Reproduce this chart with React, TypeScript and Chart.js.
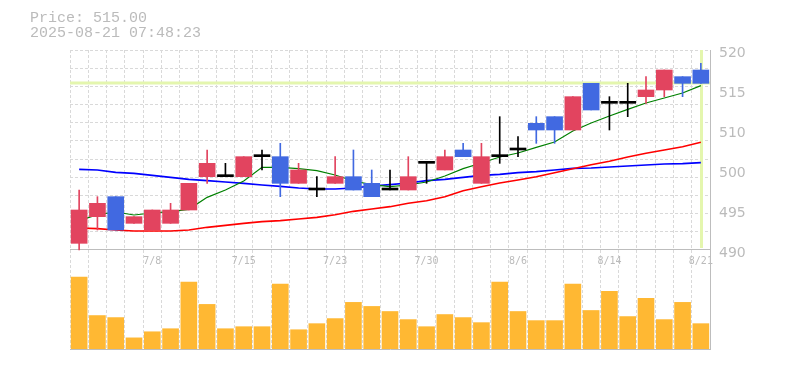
import React, { useEffect, useRef } from "react";
import { Chart, registerables } from "chart.js";

Chart.register(...registerables);

// ---- data ----
const dates = ["7/2","7/3","7/4","7/7","7/8","7/9","7/10","7/11","7/14","7/15","7/16","7/17","7/18","7/22","7/23","7/24","7/25","7/28","7/29","7/30","7/31","8/1","8/4","8/5","8/6","8/7","8/8","8/12","8/13","8/14","8/15","8/18","8/19","8/20","8/21"];
const opens  = [491,495,498,494,493,494,496,501,501,501,504,504,500,499,500,501,500,499,499,503,502,505,500,504,505,509,510,508,515,512,512,513,514,516,517];
const closes = [496,497,493,495,496,496,500,503,501,504,504,500,502,499,501,499,498,499,501,503,504,504,504,504,505,508,508,513,511,512,512,514,517,515,515];
const highs  = [499,498,498,495,496,497,500,505,503,504,505,506,503,501,504,505,502,502,504,503,505,506,506,510,507,510,510,513,515,513,515,516,517,516,518];
const lows   = [490,493,493,494,493,494,496,500,501,501,502,498,500,498,500,499,498,499,499,500,502,504,500,503,504,506,506,508,511,508,510,512,513,513,515];
const volumes = [71,33,31,11,17,20,66,44,20,22,22,64,19,25,30,46,42,37,29,22,34,31,26,66,37,28,28,64,38,57,32,50,29,46,25];
const ma5  = [494.4,495.3,495.7,495.25,495.55,495.75,496.1,497.9,499.0,500.35,502.4,502.4,502.2,501.9,501.25,500.35,499.8,499.5,499.75,500.2,501.1,502.2,503.05,503.95,504.55,505.4,506.2,507.85,509.05,510.1,511.1,512.05,512.8,513.55,514.65];
const ma25 = [493.3,493.2,493.0,492.85,492.85,492.85,493.0,493.4,493.7,494.0,494.25,494.4,494.65,494.9,495.3,495.8,496.15,496.5,497.0,497.4,498.0,498.9,499.5,500.05,500.5,501.0,501.6,502.2,502.8,503.3,503.95,504.5,505.0,505.5,506.15];
const ma75 = [502.1,502.0,501.65,501.5,501.2,500.9,500.6,500.4,500.2,500.0,499.75,499.55,499.3,499.15,499.15,499.3,499.6,499.8,500.05,500.4,500.6,500.9,501.2,501.35,501.6,501.75,502.0,502.25,502.3,502.45,502.6,502.75,502.9,502.95,503.1];
const priceTickValues = [490, 496, 502, 508, 514, 520];
const priceTickLabels = ["490", "495", "500", "510", "515", "520"];
const currentPrice = 515.0;
const titleLines = ["Price: 515.00", "2025-08-21 07:48:23"];

// ---- style / layout ----
const PRICE_MIN = 490;
const PRICE_MAX = 520;
const GRID_LINES = 12;
const UP = "#e2445f";
const DOWN = "#4169e1";
const FLAT = "#000000";
const VOL = "#ffb833";
const GRID = "#d9d9d9";
const AXIS = "#bdbdbd";
const TEXT = "#bbbbbb";
const LIME = "#e4f6ae";

const W = 785, H = 370;
const AREA_TOP = 50, AREA_LEFT = 70, AREA_RIGHT = 710, AREA_BOTTOM = 349, PRICE_BOTTOM = 250;
const axisMin = PRICE_MAX - (PRICE_MAX - PRICE_MIN) * (AREA_BOTTOM - AREA_TOP) / (PRICE_BOTTOM - AREA_TOP);
const gridValues = Array.from({ length: GRID_LINES }, (_, k) => PRICE_MIN + (k * (PRICE_MAX - PRICE_MIN)) / (GRID_LINES - 1));

const candleColor = (i: number) => (closes[i] > opens[i] ? UP : closes[i] < opens[i] ? DOWN : FLAT);

const crosshair = {
  id: "crosshair",
  beforeDatasetsDraw(chart: any) {
    const { ctx, chartArea, scales } = chart;
    const y = scales.y.getPixelForValue(currentPrice);
    const x = scales.x.getPixelForValue(dates.length - 1);
    const yb = scales.y.getPixelForValue(PRICE_MIN);
    ctx.save();
    ctx.fillStyle = LIME;
    ctx.fillRect(chartArea.left, Math.round(y) - 1.5, chartArea.right - chartArea.left, 3);
    ctx.fillRect(Math.round(x) - 1, chartArea.top, 3, yb - chartArea.top - 2);
    ctx.restore();
  },
};

export default function App() {
  const ref = useRef<HTMLCanvasElement | null>(null);

  useEffect(() => {
    if (!ref.current) return;
    const colors = dates.map((_, i) => candleColor(i));
    const chart = new Chart(ref.current, {
      type: "bar",
      data: {
        labels: dates,
        datasets: [
          {
            type: "bar",
            label: "body",
            data: opens.map((o, i) => [o, closes[i]]) as any,
            backgroundColor: colors,
            barThickness: 16,
            minBarLength: 2,
            grouped: false,
            yAxisID: "y",
            order: 0,
          },
          {
            type: "bar",
            label: "wick",
            data: lows.map((l, i) => [l, highs[i]]) as any,
            backgroundColor: colors,
            barThickness: 1,
            grouped: false,
            yAxisID: "y",
            order: 1,
          },
          {
            type: "line",
            label: "MA5",
            data: ma5,
            borderColor: "#008000",
            borderWidth: 1.2,
            pointRadius: 0,
            tension: 0,
            yAxisID: "y",
            order: 2,
          },
          {
            type: "line",
            label: "MA25",
            data: ma25,
            borderColor: "#ff0000",
            borderWidth: 1.6,
            pointRadius: 0,
            tension: 0,
            yAxisID: "y",
            order: 3,
          },
          {
            type: "line",
            label: "MA75",
            data: ma75,
            borderColor: "#0000ff",
            borderWidth: 1.6,
            pointRadius: 0,
            tension: 0,
            yAxisID: "y",
            order: 4,
          },
          {
            type: "bar",
            label: "Volume",
            data: volumes,
            backgroundColor: VOL,
            barThickness: 16,
            grouped: false,
            yAxisID: "yv",
            order: 5,
          },
        ],
      },
      options: {
        responsive: false,
        animation: false,
        devicePixelRatio: 1,
        events: [],
        layout: { padding: { top: AREA_TOP, left: AREA_LEFT, right: 0, bottom: 0 } },
        plugins: { legend: { display: false }, tooltip: { enabled: false }, title: { display: false } },
        scales: {
          x: {
            type: "category",
            position: { y: PRICE_MIN } as any,
            offset: true,
            grid: { display: true, offset: true, color: GRID, lineWidth: 1, drawTicks: false },
            border: { display: true, color: AXIS, width: 1, dash: [3, 2] },
            ticks: {
              autoSkip: false,
              maxRotation: 0,
              minRotation: 0,
              padding: 5,
              color: TEXT,
              font: { family: "'DejaVu Sans Mono', monospace", size: 10 },
              callback: (_v: any, i: number) => (i % 5 === 4 ? dates[i] : ""),
            },
          },
          x2: {
            type: "category",
            position: "bottom",
            offset: true,
            grid: { display: false, drawTicks: false },
            border: { display: true, color: AXIS, width: 1 },
            ticks: { display: false },
            afterFit: (s: any) => { s.height = H - AREA_BOTTOM; },
          },
          y: {
            type: "linear",
            position: "right",
            min: axisMin,
            max: PRICE_MAX,
            afterBuildTicks: (s: any) => { s.ticks = priceTickValues.map((value) => ({ value })); },
            afterFit: (s: any) => { s.width = W - AREA_RIGHT; },
            grid: { display: false, drawTicks: false },
            border: { display: true, color: AXIS, width: 1 },
            ticks: {
              autoSkip: false,
              padding: 9,
              labelOffset: 3,
              color: TEXT,
              font: { family: "'DejaVu Sans', sans-serif", size: 14 },
              callback: (_v: any, i: number) => priceTickLabels[i],
            },
          },
          yg: {
            type: "linear",
            position: "right",
            min: axisMin,
            max: PRICE_MAX,
            afterBuildTicks: (s: any) => { s.ticks = gridValues.map((value) => ({ value })); },
            afterFit: (s: any) => { s.width = 0; },
            grid: { display: true, color: GRID, lineWidth: 1, drawTicks: false },
            border: { display: false, dash: [3, 2] },
            ticks: { display: false },
          },
          yv: {
            type: "linear",
            display: false,
            min: 0,
            max: 295,
          },
        },
      },
      plugins: [crosshair],
    } as any);
    return () => chart.destroy();
  }, []);

  return (
    <div style={{ position: "fixed", left: 0, top: 0, width: W, height: H, background: "#fff" }}>
      <canvas ref={ref} width={W} height={H} style={{ display: "block", width: W, height: H }} />
      <div
        style={{
          position: "absolute",
          left: 30,
          top: 11,
          font: "15px 'Liberation Mono', monospace",
          lineHeight: "15px",
          color: TEXT,
          whiteSpace: "pre",
        }}
      >
        {titleLines.join("\n")}
      </div>
    </div>
  );
}
